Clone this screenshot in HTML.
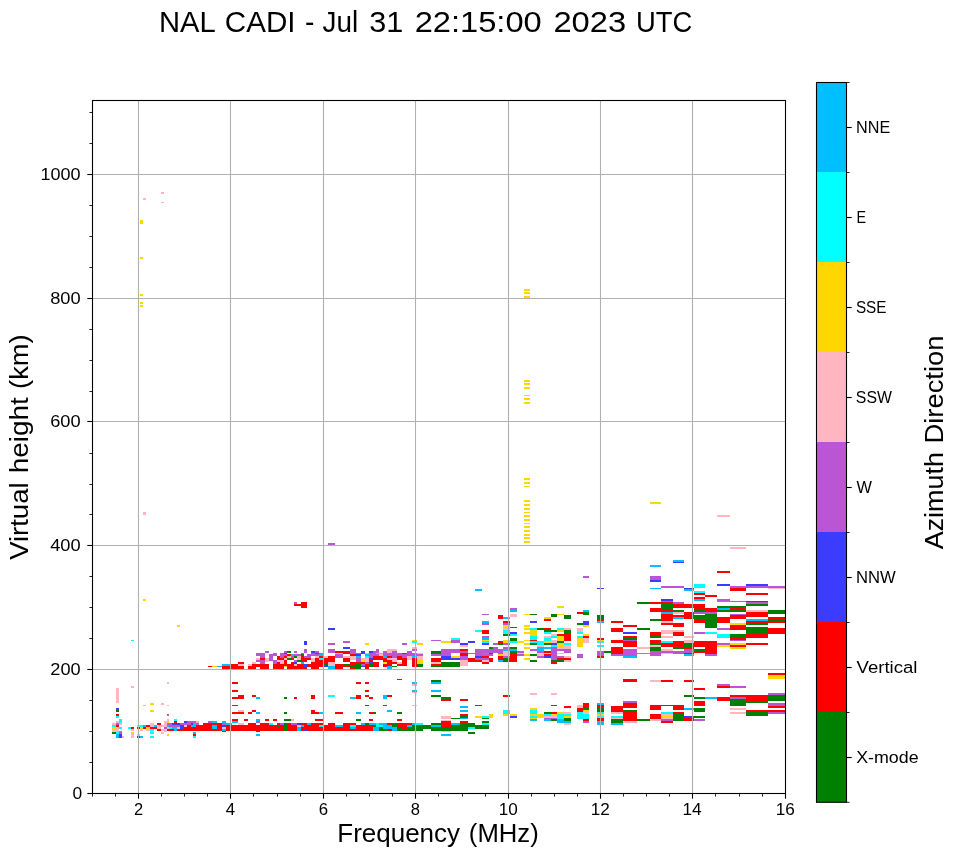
<!DOCTYPE html><html><head><meta charset="utf-8"><title>NAL CADI</title>
<style>html,body{margin:0;padding:0;background:#fff}body{width:958px;height:857px;overflow:hidden}svg{display:block;will-change:transform}text{font-family:"Liberation Sans",sans-serif;fill:#000}</style></head><body>
<svg width="958" height="857" viewBox="0 0 958 857">
<rect x="0" y="0" width="958" height="857" fill="#fff"/>
<g shape-rendering="crispEdges">
<rect x="116" y="687.9" width="3" height="14.9" fill="#ffb6c1"/>
<rect x="116" y="708.1" width="3" height="2" fill="#3c3cff"/>
<rect x="116" y="710.1" width="3" height="2" fill="#008000"/>
<rect x="116" y="714.1" width="3" height="2" fill="#ff0000"/>
<rect x="116" y="716.1" width="3" height="2" fill="#00ffff"/>
<rect x="119" y="718.8" width="3" height="4" fill="#00ffff"/>
<rect x="116" y="720.8" width="3" height="2" fill="#ffb6c1"/>
<rect x="112" y="722.9" width="4" height="2" fill="#ffb6c1"/>
<rect x="116" y="722.9" width="3" height="2" fill="#ba55d3"/>
<rect x="119" y="722.9" width="3" height="2" fill="#ffb6c1"/>
<rect x="112" y="724.9" width="4" height="2" fill="#00ffff"/>
<rect x="116" y="724.9" width="3" height="2" fill="#ff0000"/>
<rect x="112" y="726.9" width="4" height="2" fill="#ffd700"/>
<rect x="116" y="726.9" width="3" height="2" fill="#ffb6c1"/>
<rect x="119" y="726.9" width="3" height="2" fill="#00ffff"/>
<rect x="112" y="728.9" width="7" height="2" fill="#ffb6c1"/>
<rect x="112" y="730.9" width="4" height="1.3" fill="#ffb6c1"/>
<rect x="116" y="730.9" width="3" height="1.3" fill="#ffd700"/>
<rect x="119" y="730.9" width="3" height="2" fill="#00bfff"/>
<rect x="112" y="732.1" width="4" height="1.8" fill="#008000"/>
<rect x="116" y="732.1" width="3" height="1.8" fill="#00ffff"/>
<rect x="119" y="732.1" width="3" height="1.8" fill="#ba55d3"/>
<rect x="116" y="733.9" width="3" height="4" fill="#00bfff"/>
<rect x="119" y="733.9" width="3" height="4" fill="#3c3cff"/>
<rect x="122" y="735.9" width="1.8" height="2" fill="#ffb6c1"/>
<rect x="131.1" y="686" width="2.8" height="1.9" fill="#ffb6c1"/>
<rect x="127.8" y="726.9" width="3" height="2" fill="#00ffff"/>
<rect x="130.8" y="726.9" width="3" height="2" fill="#ff0000"/>
<rect x="130.8" y="728.9" width="3" height="2" fill="#ffb6c1"/>
<rect x="130.8" y="732.1" width="3" height="1.8" fill="#ffd700"/>
<rect x="130.8" y="733.9" width="3" height="4" fill="#ffb6c1"/>
<rect x="137" y="725.1" width="3.1" height="1.8" fill="#ffb6c1"/>
<rect x="137" y="726.9" width="3.1" height="2" fill="#ff0000"/>
<rect x="140.1" y="724.9" width="3.1" height="2" fill="#00ffff"/>
<rect x="143.2" y="724.9" width="2.9" height="2" fill="#00bfff"/>
<rect x="140.1" y="726.9" width="3.1" height="2" fill="#ffd700"/>
<rect x="143.2" y="726.9" width="2.9" height="2" fill="#ff0000"/>
<rect x="140.1" y="728.9" width="3.1" height="2" fill="#ffb6c1"/>
<rect x="137" y="733.9" width="3.1" height="2" fill="#ffb6c1"/>
<rect x="137" y="735.9" width="3.1" height="2" fill="#ff0000"/>
<rect x="140.1" y="735.9" width="3.1" height="2" fill="#00bfff"/>
<rect x="142.8" y="705.1" width="3.3" height="0.8" fill="#ffd700"/>
<rect x="146.1" y="724.9" width="4" height="2" fill="#ff0000"/>
<rect x="146.1" y="726.9" width="4" height="2" fill="#ffd700"/>
<rect x="146.1" y="728.9" width="4" height="2" fill="#ffb6c1"/>
<rect x="150.1" y="722.9" width="4" height="4" fill="#ffb6c1"/>
<rect x="150.1" y="726.9" width="7" height="2" fill="#ff0000"/>
<rect x="154.1" y="724.9" width="3" height="2" fill="#00bfff"/>
<rect x="150.1" y="728.9" width="4" height="2" fill="#00ffff"/>
<rect x="150.1" y="730.9" width="4" height="1.3" fill="#ffd700"/>
<rect x="150.1" y="732.1" width="4" height="1.8" fill="#00ffff"/>
<rect x="150.1" y="735.9" width="4" height="2" fill="#00ffff"/>
<rect x="150.1" y="703.1" width="4" height="2" fill="#ffd700"/>
<rect x="150.1" y="710.1" width="4" height="2" fill="#ffd700"/>
<rect x="157.1" y="722.9" width="4" height="2" fill="#ff0000"/>
<rect x="157.1" y="724.9" width="4" height="4" fill="#ffb6c1"/>
<rect x="157.1" y="728.9" width="4" height="2" fill="#ff0000"/>
<rect x="161.1" y="703.1" width="3" height="2" fill="#ffb6c1"/>
<rect x="161.1" y="724.9" width="6" height="2" fill="#ffb6c1"/>
<rect x="164.1" y="720.8" width="3" height="6" fill="#ffb6c1"/>
<rect x="164.1" y="726.9" width="3" height="2" fill="#ba55d3"/>
<rect x="161.1" y="728.9" width="6" height="2" fill="#ffb6c1"/>
<rect x="161.1" y="732.1" width="3" height="1.8" fill="#ffb6c1"/>
<rect x="164.1" y="730.9" width="3" height="1.3" fill="#ffd700"/>
<rect x="167.1" y="682" width="1.8" height="2" fill="#ffb6c1"/>
<rect x="167.1" y="705.1" width="1.8" height="0.8" fill="#ffb6c1"/>
<rect x="167.1" y="714.1" width="1.8" height="2" fill="#ba55d3"/>
<rect x="167.1" y="718.8" width="1.8" height="2" fill="#ffb6c1"/>
<rect x="167.1" y="720.8" width="1.8" height="2" fill="#ffd700"/>
<rect x="167.1" y="733.9" width="1.8" height="2" fill="#ffd700"/>
<rect x="173.9" y="718.8" width="3" height="2" fill="#00ffff"/>
<rect x="173.9" y="720.8" width="3" height="2" fill="#ff0000"/>
<rect x="183.9" y="720.8" width="3.1" height="2" fill="#3c3cff"/>
<rect x="187.1" y="720.8" width="8.8" height="2" fill="#ba55d3"/>
<rect x="195.8" y="720.8" width="3.1" height="2" fill="#ffb6c1"/>
<rect x="208" y="720.8" width="4.1" height="2" fill="#ba55d3"/>
<rect x="212.1" y="720.8" width="5" height="2" fill="#00bfff"/>
<rect x="167.1" y="722.9" width="52.9" height="8" fill="#ff0000"/>
<rect x="167.1" y="722.9" width="4.9" height="2" fill="#ba55d3"/>
<rect x="172" y="722.9" width="8.1" height="2" fill="#3c3cff"/>
<rect x="180.2" y="722.9" width="10.6" height="2" fill="#ba55d3"/>
<rect x="190.8" y="722.9" width="2.5" height="2" fill="#3c3cff"/>
<rect x="193.3" y="722.9" width="2.5" height="2" fill="#00bfff"/>
<rect x="195.8" y="722.9" width="3.1" height="2" fill="#ba55d3"/>
<rect x="199" y="722.9" width="3.8" height="2" fill="#ffffff"/>
<rect x="167.1" y="724.9" width="1.8" height="2" fill="#00bfff"/>
<rect x="168.9" y="724.9" width="11.3" height="2" fill="#ba55d3"/>
<rect x="180.2" y="724.9" width="3.8" height="2" fill="#3c3cff"/>
<rect x="183.9" y="724.9" width="3.1" height="2" fill="#ffb6c1"/>
<rect x="190.8" y="724.9" width="5" height="2" fill="#00bfff"/>
<rect x="212.1" y="724.9" width="5" height="4" fill="#00bfff"/>
<rect x="167.1" y="726.9" width="1.8" height="2" fill="#ffb6c1"/>
<rect x="168.9" y="726.9" width="3.1" height="2" fill="#00ffff"/>
<rect x="172" y="726.9" width="4.9" height="2" fill="#00bfff"/>
<rect x="176.9" y="726.9" width="3.3" height="2" fill="#ffb6c1"/>
<rect x="180.2" y="726.9" width="3.8" height="2" fill="#3c3cff"/>
<rect x="173.9" y="728.9" width="3" height="2" fill="#00bfff"/>
<rect x="192.9" y="732.1" width="3" height="1.8" fill="#00bfff"/>
<rect x="192.9" y="733.9" width="3" height="2" fill="#ff0000"/>
<rect x="192.9" y="735.9" width="3" height="2" fill="#00ffff"/>
<rect x="215" y="722.9" width="120" height="8" fill="#ff0000"/>
<rect x="215" y="720.8" width="2" height="2" fill="#00bfff"/>
<rect x="215" y="724.9" width="2" height="4" fill="#00bfff"/>
<rect x="221.9" y="720.8" width="4.1" height="2" fill="#00bfff"/>
<rect x="221.9" y="722.9" width="4.1" height="2" fill="#ba55d3"/>
<rect x="221.9" y="724.9" width="4.1" height="2" fill="#3c3cff"/>
<rect x="221.9" y="726.9" width="4.1" height="2" fill="#ffb6c1"/>
<rect x="221.9" y="728.9" width="4.1" height="2" fill="#00bfff"/>
<rect x="221.9" y="730.9" width="4.1" height="1" fill="#ff0000"/>
<rect x="226" y="722.9" width="5.9" height="2" fill="#00bfff"/>
<rect x="231.9" y="720.8" width="6.3" height="2" fill="#00bfff"/>
<rect x="231.9" y="722.9" width="6.3" height="2" fill="#ffffff"/>
<rect x="238.2" y="722.9" width="5.6" height="2" fill="#ffb6c1"/>
<rect x="243.8" y="722.9" width="4.4" height="2" fill="#ffffff"/>
<rect x="256.3" y="722.9" width="3.5" height="2" fill="#ffffff"/>
<rect x="256.3" y="718.8" width="3.5" height="2" fill="#00bfff"/>
<rect x="256.3" y="720.8" width="3.5" height="2" fill="#ba55d3"/>
<rect x="256.3" y="730.9" width="3.5" height="1" fill="#ff0000"/>
<rect x="256.3" y="733.9" width="3.5" height="2" fill="#00bfff"/>
<rect x="268.9" y="722.9" width="4" height="2" fill="#00ffff"/>
<rect x="272.9" y="722.9" width="4.1" height="2" fill="#ffffff"/>
<rect x="277" y="724.9" width="3.1" height="2" fill="#008000"/>
<rect x="280.1" y="722.9" width="3.8" height="2" fill="#ba55d3"/>
<rect x="283.9" y="722.9" width="3.1" height="8" fill="#008000"/>
<rect x="291.2" y="722.9" width="5.9" height="2" fill="#ba55d3"/>
<rect x="297" y="722.9" width="3.8" height="2" fill="#3c3cff"/>
<rect x="297" y="724.9" width="3.8" height="2" fill="#ffb6c1"/>
<rect x="297" y="726.9" width="3.8" height="4" fill="#00bfff"/>
<rect x="300.8" y="724.9" width="3.1" height="2" fill="#00bfff"/>
<rect x="303.9" y="728.9" width="3.1" height="2" fill="#3c3cff"/>
<rect x="307.1" y="722.9" width="3.8" height="2" fill="#00bfff"/>
<rect x="319" y="724.9" width="4" height="2" fill="#00ffff"/>
<rect x="324" y="722.9" width="4.4" height="2" fill="#ffffff"/>
<rect x="231.9" y="682" width="6.3" height="2" fill="#ff0000"/>
<rect x="231.9" y="690" width="6.3" height="2" fill="#ff0000"/>
<rect x="231.9" y="697" width="6.3" height="2" fill="#ff0000"/>
<rect x="238.2" y="695" width="5.9" height="4" fill="#ff0000"/>
<rect x="231.9" y="704.8" width="6.3" height="1" fill="#ff0000"/>
<rect x="238.2" y="710.1" width="5.9" height="2" fill="#ffb6c1"/>
<rect x="231.9" y="712.1" width="12.2" height="2" fill="#ff0000"/>
<rect x="231.9" y="718.8" width="6.3" height="2" fill="#ff0000"/>
<rect x="244.1" y="718.8" width="4.1" height="2" fill="#ff0000"/>
<rect x="248.2" y="712.1" width="3.8" height="2" fill="#ff0000"/>
<rect x="252" y="710.1" width="4.1" height="2" fill="#ff0000"/>
<rect x="252" y="695" width="4.1" height="2" fill="#ff0000"/>
<rect x="256.1" y="697" width="3.8" height="2" fill="#00bfff"/>
<rect x="256.1" y="712.1" width="3.8" height="2" fill="#00bfff"/>
<rect x="265.1" y="718.8" width="3.8" height="2" fill="#ff0000"/>
<rect x="272.9" y="718.8" width="4.1" height="2" fill="#ff0000"/>
<rect x="283.9" y="697" width="3.1" height="2" fill="#008000"/>
<rect x="283.9" y="712.1" width="3.1" height="2" fill="#008000"/>
<rect x="283.9" y="718.8" width="7.3" height="2" fill="#008000"/>
<rect x="291.2" y="718.8" width="2.8" height="2" fill="#ffb6c1"/>
<rect x="293.9" y="697" width="3.1" height="2" fill="#ff0000"/>
<rect x="311.2" y="695" width="3.8" height="4" fill="#ff0000"/>
<rect x="311.2" y="710.1" width="3.8" height="4" fill="#ff0000"/>
<rect x="315" y="712.1" width="4" height="2" fill="#ff0000"/>
<rect x="319" y="712.1" width="4" height="2" fill="#00bfff"/>
<rect x="315" y="718.8" width="8" height="2" fill="#ff0000"/>
<rect x="328" y="695" width="7" height="2" fill="#00ffff"/>
<rect x="330" y="722.9" width="43.2" height="8" fill="#ff0000"/>
<rect x="335" y="722.9" width="8.1" height="2" fill="#ffffff"/>
<rect x="356.1" y="722.9" width="5" height="2" fill="#ffffff"/>
<rect x="361.1" y="722.9" width="4" height="2" fill="#00bfff"/>
<rect x="365.1" y="722.9" width="4" height="2" fill="#008000"/>
<rect x="369.1" y="722.9" width="7" height="2" fill="#00bfff"/>
<rect x="376.1" y="722.9" width="3" height="2" fill="#00ffff"/>
<rect x="379.1" y="722.9" width="8" height="2" fill="#00bfff"/>
<rect x="387.1" y="722.9" width="4.9" height="2" fill="#ff0000"/>
<rect x="392" y="722.9" width="5" height="2" fill="#008000"/>
<rect x="397" y="722.9" width="15" height="2" fill="#ff0000"/>
<rect x="412" y="722.9" width="4.4" height="2" fill="#00bfff"/>
<rect x="416.4" y="722.9" width="6.5" height="2" fill="#00ffff"/>
<rect x="431.2" y="722.9" width="9.6" height="2" fill="#008000"/>
<rect x="335" y="724.9" width="8.1" height="2" fill="#00bfff"/>
<rect x="350" y="724.9" width="6" height="2" fill="#00ffff"/>
<rect x="373.2" y="724.9" width="2.9" height="2" fill="#008000"/>
<rect x="376.1" y="724.9" width="3" height="2" fill="#00ffff"/>
<rect x="379.1" y="724.9" width="4.1" height="2" fill="#00ffff"/>
<rect x="383.2" y="724.9" width="8.8" height="2" fill="#00bfff"/>
<rect x="392" y="724.9" width="5" height="2" fill="#008000"/>
<rect x="397" y="724.9" width="10" height="2" fill="#ff0000"/>
<rect x="407" y="724.9" width="5" height="2" fill="#00bfff"/>
<rect x="412" y="724.9" width="19.2" height="2" fill="#008000"/>
<rect x="431.2" y="724.9" width="9.6" height="2" fill="#00bfff"/>
<rect x="350" y="726.9" width="6" height="2" fill="#00bfff"/>
<rect x="373.2" y="726.9" width="5.9" height="2" fill="#00bfff"/>
<rect x="379.1" y="726.9" width="4.1" height="2" fill="#008000"/>
<rect x="383.2" y="726.9" width="13.8" height="2" fill="#00bfff"/>
<rect x="397" y="726.9" width="5" height="2" fill="#008000"/>
<rect x="402" y="726.9" width="5" height="2" fill="#ff0000"/>
<rect x="407" y="726.9" width="43" height="2" fill="#008000"/>
<rect x="373.2" y="728.9" width="5.9" height="2" fill="#00bfff"/>
<rect x="379.1" y="728.9" width="8" height="2" fill="#008000"/>
<rect x="387.1" y="728.9" width="4.9" height="2" fill="#ff0000"/>
<rect x="392" y="728.9" width="5" height="2" fill="#00bfff"/>
<rect x="397" y="728.9" width="25.9" height="2" fill="#008000"/>
<rect x="431.2" y="728.9" width="18.8" height="2" fill="#008000"/>
<rect x="440.9" y="716.1" width="9.1" height="1.5" fill="#ffb6c1"/>
<rect x="440.9" y="718.3" width="9.1" height="0.8" fill="#ffb6c1"/>
<rect x="440.9" y="719.6" width="9.1" height="1.3" fill="#ffb6c1"/>
<rect x="440.9" y="720.8" width="9.1" height="6" fill="#ff0000"/>
<rect x="440.9" y="730.9" width="9.1" height="1" fill="#ffb6c1"/>
<rect x="440.9" y="733.9" width="9.1" height="2" fill="#00bfff"/>
<rect x="330" y="695" width="5" height="2" fill="#00ffff"/>
<rect x="335" y="712.1" width="8.1" height="2" fill="#ff0000"/>
<rect x="356.1" y="682" width="5" height="2" fill="#ff0000"/>
<rect x="365.1" y="682" width="4" height="2" fill="#ff0000"/>
<rect x="365.1" y="690" width="4" height="2" fill="#ff0000"/>
<rect x="350" y="697" width="6" height="2" fill="#00bfff"/>
<rect x="356.1" y="695" width="5" height="4" fill="#ff0000"/>
<rect x="365.1" y="695" width="4" height="2" fill="#ff0000"/>
<rect x="369.1" y="697" width="4.1" height="2" fill="#ff0000"/>
<rect x="365.1" y="704.8" width="4" height="1" fill="#ff0000"/>
<rect x="356.1" y="712.1" width="5" height="2" fill="#00bfff"/>
<rect x="369.1" y="712.1" width="4.1" height="2" fill="#ff0000"/>
<rect x="373.2" y="712.1" width="2.9" height="2" fill="#008000"/>
<rect x="356.1" y="718.8" width="5" height="2" fill="#008000"/>
<rect x="369.1" y="718.8" width="4.1" height="2" fill="#ff0000"/>
<rect x="383.2" y="695" width="3.9" height="4" fill="#00bfff"/>
<rect x="387.1" y="695" width="4.9" height="2" fill="#ff0000"/>
<rect x="383.2" y="704.8" width="3.9" height="1" fill="#ff0000"/>
<rect x="387.1" y="710.1" width="4.9" height="2" fill="#00bfff"/>
<rect x="397" y="679" width="5" height="1" fill="#ff0000"/>
<rect x="397" y="712.1" width="5" height="2" fill="#008000"/>
<rect x="397" y="718.8" width="5" height="2" fill="#ff0000"/>
<rect x="412" y="682" width="5" height="2" fill="#00bfff"/>
<rect x="412" y="684" width="5" height="1.5" fill="#ffb6c1"/>
<rect x="412" y="690" width="5" height="2" fill="#00bfff"/>
<rect x="412" y="692" width="5" height="0.8" fill="#ffb6c1"/>
<rect x="412" y="704.8" width="5" height="1" fill="#ffb6c1"/>
<rect x="431.2" y="680" width="9.6" height="2" fill="#008000"/>
<rect x="431.2" y="682" width="9.6" height="2" fill="#00bfff"/>
<rect x="431.2" y="690" width="9.6" height="2" fill="#00bfff"/>
<rect x="431.2" y="695" width="9.6" height="2" fill="#008000"/>
<rect x="440.9" y="697" width="9.1" height="2" fill="#008000"/>
<rect x="440.9" y="699.1" width="9.1" height="2" fill="#ff0000"/>
<rect x="445" y="697" width="6" height="2" fill="#008000"/>
<rect x="445" y="699.1" width="6" height="2" fill="#ff0000"/>
<rect x="445" y="716.1" width="6" height="1.5" fill="#ffb6c1"/>
<rect x="445" y="718.3" width="6" height="0.8" fill="#ffb6c1"/>
<rect x="445" y="719.6" width="6" height="1.3" fill="#ffb6c1"/>
<rect x="445" y="720.8" width="6" height="6" fill="#ff0000"/>
<rect x="445" y="726.9" width="6" height="4" fill="#008000"/>
<rect x="445" y="730.9" width="6" height="1" fill="#ffb6c1"/>
<rect x="445" y="733.9" width="6" height="2" fill="#00bfff"/>
<rect x="451" y="717.8" width="9" height="1.3" fill="#008000"/>
<rect x="451" y="722.9" width="9" height="2" fill="#00bfff"/>
<rect x="451" y="724.9" width="16.9" height="6" fill="#008000"/>
<rect x="460" y="699.1" width="7.9" height="2" fill="#ff0000"/>
<rect x="460" y="706.1" width="7.9" height="2" fill="#00bfff"/>
<rect x="460" y="710.1" width="7.9" height="2" fill="#00bfff"/>
<rect x="460" y="714.1" width="7.9" height="2" fill="#ff0000"/>
<rect x="460" y="716.1" width="7.9" height="2" fill="#008000"/>
<rect x="460" y="718.1" width="7.9" height="1" fill="#00bfff"/>
<rect x="460" y="720.8" width="7.9" height="2" fill="#ff0000"/>
<rect x="460" y="722.9" width="7.9" height="2" fill="#008000"/>
<rect x="467.9" y="722.9" width="6.9" height="4" fill="#008000"/>
<rect x="467.9" y="726.9" width="6.9" height="2" fill="#00ffff"/>
<rect x="467.9" y="732.1" width="6.9" height="1.8" fill="#008000"/>
<rect x="474.8" y="724.9" width="14" height="4" fill="#008000"/>
<rect x="474.8" y="704.8" width="7.1" height="1" fill="#ff0000"/>
<rect x="474.8" y="716.1" width="7.1" height="1.8" fill="#ffd700"/>
<rect x="482" y="716.1" width="6.9" height="1.8" fill="#00ffff"/>
<rect x="482" y="717.8" width="6.9" height="1.3" fill="#008000"/>
<rect x="482" y="720.8" width="6.9" height="2" fill="#008000"/>
<rect x="482" y="722.9" width="6.9" height="2" fill="#00ffff"/>
<rect x="488.8" y="714.1" width="4" height="3.8" fill="#ffd700"/>
<rect x="502.9" y="695" width="7" height="2" fill="#ff0000"/>
<rect x="502.9" y="710.1" width="7" height="4" fill="#00ffff"/>
<rect x="502.9" y="714.1" width="5" height="2" fill="#ffd700"/>
<rect x="509.9" y="714.1" width="7.1" height="2" fill="#ffd700"/>
<rect x="509.9" y="716.1" width="7.1" height="1.8" fill="#3c3cff"/>
<rect x="529.9" y="693" width="7.1" height="1.8" fill="#ffb6c1"/>
<rect x="529.9" y="708.1" width="7.1" height="2" fill="#ffd700"/>
<rect x="529.9" y="710.1" width="7.1" height="4" fill="#00ffff"/>
<rect x="529.9" y="714.1" width="7.1" height="2" fill="#ffd700"/>
<rect x="529.9" y="716.1" width="7.1" height="1.8" fill="#00ffff"/>
<rect x="537.1" y="714.1" width="6.9" height="3.8" fill="#ffd700"/>
<rect x="529.9" y="717.8" width="7.1" height="1.3" fill="#ffd700"/>
<rect x="529.9" y="719.1" width="7.1" height="1.8" fill="#00bfff"/>
<rect x="550.8" y="693" width="6" height="1.8" fill="#ffb6c1"/>
<rect x="550.8" y="704.8" width="6" height="1" fill="#008000"/>
<rect x="544" y="712.1" width="6.9" height="2" fill="#008000"/>
<rect x="544" y="714.1" width="6.9" height="2" fill="#00ffff"/>
<rect x="544" y="716.1" width="12.9" height="1.5" fill="#ffb6c1"/>
<rect x="544" y="717.6" width="12.9" height="1" fill="#ba55d3"/>
<rect x="544" y="718.6" width="6.9" height="2.3" fill="#00bfff"/>
<rect x="550.8" y="712.1" width="6" height="2" fill="#ff0000"/>
<rect x="550.8" y="714.1" width="6" height="2" fill="#ffd700"/>
<rect x="550.8" y="718.6" width="6" height="2.3" fill="#008000"/>
<rect x="556.9" y="712.1" width="7.1" height="2" fill="#ffd700"/>
<rect x="556.9" y="714.1" width="8.1" height="4.8" fill="#00ffff"/>
<rect x="556.9" y="718.8" width="8.1" height="4" fill="#00bfff"/>
<rect x="564" y="706.1" width="1" height="2" fill="#ff0000"/>
<rect x="564" y="712.1" width="1" height="2" fill="#ffb6c1"/>
<rect x="564" y="716.1" width="1" height="1.8" fill="#ffd700"/>
<rect x="564" y="717.8" width="1" height="3" fill="#008000"/>
<rect x="564" y="722.9" width="1" height="2" fill="#ffb6c1"/>
<rect x="560" y="712.1" width="4" height="2" fill="#ffd700"/>
<rect x="560" y="714.1" width="4" height="4.8" fill="#00ffff"/>
<rect x="560" y="718.8" width="4" height="4" fill="#00bfff"/>
<rect x="564" y="706.1" width="7" height="2" fill="#ff0000"/>
<rect x="564" y="712.1" width="7" height="2" fill="#ffb6c1"/>
<rect x="564" y="714.1" width="7" height="2" fill="#00ffff"/>
<rect x="564" y="716.1" width="7" height="1.8" fill="#ffd700"/>
<rect x="564" y="717.8" width="7" height="3" fill="#008000"/>
<rect x="564" y="720.8" width="7" height="2" fill="#00bfff"/>
<rect x="564" y="722.9" width="7" height="2" fill="#ffb6c1"/>
<rect x="576.9" y="705.1" width="6" height="3" fill="#ffb6c1"/>
<rect x="576.9" y="708.1" width="6" height="4" fill="#ff0000"/>
<rect x="576.9" y="712.1" width="12.2" height="6.8" fill="#00ffff"/>
<rect x="582.9" y="703.1" width="6.1" height="5" fill="#ff0000"/>
<rect x="582.9" y="708.1" width="6.1" height="2" fill="#008000"/>
<rect x="582.9" y="710.1" width="6.1" height="2" fill="#ffd700"/>
<rect x="582.9" y="712.1" width="6.1" height="2" fill="#ffb6c1"/>
<rect x="582.9" y="718.8" width="6.1" height="2.3" fill="#ff0000"/>
<rect x="582.9" y="721.1" width="6.1" height="1.8" fill="#ba55d3"/>
<rect x="597" y="703.1" width="6.9" height="2" fill="#00bfff"/>
<rect x="597" y="705.1" width="6.9" height="3" fill="#ff0000"/>
<rect x="597" y="708.1" width="6.9" height="4" fill="#008000"/>
<rect x="597" y="712.1" width="6.9" height="2" fill="#00ffff"/>
<rect x="597" y="714.1" width="6.9" height="2" fill="#ffd700"/>
<rect x="597" y="716.1" width="6.9" height="2" fill="#00ffff"/>
<rect x="597" y="718.1" width="6.9" height="3" fill="#ff0000"/>
<rect x="597" y="721.1" width="6.9" height="3.8" fill="#00bfff"/>
<rect x="611" y="705.8" width="11.9" height="6.3" fill="#ff0000"/>
<rect x="611" y="712.1" width="11.9" height="2" fill="#ffb6c1"/>
<rect x="611" y="716.1" width="11.9" height="2" fill="#00ffff"/>
<rect x="611" y="718.1" width="11.9" height="1" fill="#ffb6c1"/>
<rect x="611" y="719.1" width="11.9" height="3.8" fill="#008000"/>
<rect x="611" y="722.9" width="11.9" height="2" fill="#00bfff"/>
<rect x="622.9" y="679" width="14.2" height="3" fill="#ff0000"/>
<rect x="622.9" y="701.1" width="14.2" height="2" fill="#ba55d3"/>
<rect x="622.9" y="703.1" width="14.2" height="5" fill="#ff0000"/>
<rect x="622.9" y="710.1" width="14.2" height="2" fill="#008000"/>
<rect x="622.9" y="712.1" width="14.2" height="8.8" fill="#ff0000"/>
<rect x="622.9" y="720.8" width="14.2" height="2" fill="#ffb6c1"/>
<rect x="637" y="719.1" width="13.2" height="1.8" fill="#008000"/>
<rect x="650.2" y="680" width="10.8" height="2" fill="#ffb6c1"/>
<rect x="650.2" y="705.1" width="10.8" height="5" fill="#ff0000"/>
<rect x="650.2" y="714.1" width="10.8" height="5" fill="#ff0000"/>
<rect x="650.2" y="719.1" width="10.8" height="1.8" fill="#ffb6c1"/>
<rect x="661" y="680" width="12" height="2" fill="#ff0000"/>
<rect x="661" y="705.1" width="12" height="1" fill="#008000"/>
<rect x="661" y="712.1" width="12" height="2" fill="#00ffff"/>
<rect x="661" y="714.1" width="12" height="2" fill="#ffb6c1"/>
<rect x="661" y="716.1" width="12" height="2" fill="#ffd700"/>
<rect x="661" y="718.1" width="12" height="1" fill="#ffb6c1"/>
<rect x="661" y="719.1" width="12" height="1.8" fill="#ba55d3"/>
<rect x="661" y="720.8" width="12" height="2" fill="#ff0000"/>
<rect x="673" y="705.1" width="7" height="5" fill="#ff0000"/>
<rect x="673" y="712.1" width="7" height="2" fill="#ff0000"/>
<rect x="673" y="714.1" width="7" height="6.8" fill="#008000"/>
<rect x="675" y="705.1" width="9" height="5" fill="#ff0000"/>
<rect x="675" y="712.1" width="9" height="2" fill="#ff0000"/>
<rect x="675" y="714.1" width="9" height="6.8" fill="#008000"/>
<rect x="684" y="680" width="10" height="2" fill="#ff0000"/>
<rect x="684" y="695" width="10" height="2" fill="#008000"/>
<rect x="684" y="708.1" width="10" height="2" fill="#00bfff"/>
<rect x="684" y="716.1" width="10" height="2" fill="#3c3cff"/>
<rect x="684" y="718.1" width="10" height="2.8" fill="#ff0000"/>
<rect x="694" y="688" width="11" height="2" fill="#ff0000"/>
<rect x="694" y="697" width="11" height="2" fill="#008000"/>
<rect x="694" y="701.1" width="11" height="4" fill="#ff0000"/>
<rect x="694" y="705.1" width="11" height="0.8" fill="#3c3cff"/>
<rect x="694" y="708.1" width="11" height="4" fill="#008000"/>
<rect x="694" y="716.1" width="11" height="2" fill="#008000"/>
<rect x="694" y="719.1" width="11" height="1.8" fill="#ba55d3"/>
<rect x="705.1" y="697" width="11.9" height="2" fill="#00bfff"/>
<rect x="717" y="684" width="13.2" height="2" fill="#ba55d3"/>
<rect x="717" y="686" width="13.2" height="2" fill="#ff0000"/>
<rect x="717" y="697" width="13.2" height="4" fill="#ff0000"/>
<rect x="730.1" y="686" width="15.9" height="2" fill="#ba55d3"/>
<rect x="730.1" y="695" width="15.9" height="2" fill="#ff0000"/>
<rect x="730.1" y="697" width="15.9" height="2" fill="#ba55d3"/>
<rect x="730.1" y="699.1" width="15.9" height="6.8" fill="#008000"/>
<rect x="730.1" y="708.1" width="15.9" height="2" fill="#ffb6c1"/>
<rect x="730.1" y="712.1" width="15.9" height="2" fill="#ffb6c1"/>
<rect x="746" y="695" width="21.9" height="6" fill="#ff0000"/>
<rect x="746" y="701.1" width="21.9" height="1.8" fill="#008000"/>
<rect x="746" y="710.1" width="21.9" height="2" fill="#ff0000"/>
<rect x="746" y="712.1" width="21.9" height="3.8" fill="#008000"/>
<rect x="767.9" y="675" width="17" height="3.8" fill="#ffd700"/>
<rect x="767.9" y="693" width="17" height="2" fill="#ba55d3"/>
<rect x="767.9" y="695" width="17" height="6" fill="#008000"/>
<rect x="767.9" y="703.1" width="17" height="3" fill="#ba55d3"/>
<rect x="767.9" y="706.1" width="17" height="2" fill="#ff0000"/>
<rect x="767.9" y="710.1" width="17" height="2" fill="#ff0000"/>
<rect x="767.9" y="712.1" width="17" height="2" fill="#ba55d3"/>
<rect x="142.8" y="599" width="3.3" height="2" fill="#ffd700"/>
<rect x="176.9" y="625.1" width="3.3" height="1.8" fill="#ffd700"/>
<rect x="130.8" y="639.8" width="3" height="1" fill="#00ffff"/>
<rect x="208" y="665.9" width="4.1" height="1" fill="#ff0000"/>
<rect x="212.1" y="665.9" width="5" height="1" fill="#ffd700"/>
<rect x="217.1" y="665.9" width="2.9" height="1" fill="#00bfff"/>
<rect x="215" y="665.9" width="2" height="1" fill="#ffd700"/>
<rect x="217" y="666.2" width="5" height="0.6" fill="#00bfff"/>
<rect x="222" y="663.9" width="9.9" height="2" fill="#00bfff"/>
<rect x="222" y="665.9" width="8" height="3" fill="#ff0000"/>
<rect x="231.4" y="663.9" width="12.5" height="5" fill="#ff0000"/>
<rect x="238" y="661.9" width="5.9" height="2" fill="#ff0000"/>
<rect x="238" y="664.4" width="5.9" height="1.1" fill="#ffb6c1"/>
<rect x="248.1" y="665.9" width="20.8" height="3" fill="#ff0000"/>
<rect x="248.1" y="664.1" width="3.9" height="1.8" fill="#ffb6c1"/>
<rect x="252" y="663.9" width="16.9" height="2" fill="#ff0000"/>
<rect x="252" y="662" width="4.1" height="1.9" fill="#ffb6c1"/>
<rect x="256" y="667.1" width="3.9" height="1.9" fill="#ffffff"/>
<rect x="256" y="652.8" width="9" height="3.1" fill="#ba55d3"/>
<rect x="260" y="656" width="5" height="2.2" fill="#ba55d3"/>
<rect x="256" y="658.2" width="3.9" height="1.8" fill="#ffb6c1"/>
<rect x="260" y="658.2" width="5" height="1.8" fill="#ff0000"/>
<rect x="256" y="659.9" width="9" height="2" fill="#ba55d3"/>
<rect x="260" y="661.9" width="5" height="2" fill="#ba55d3"/>
<rect x="265" y="651" width="3.9" height="1.9" fill="#ba55d3"/>
<rect x="265" y="658.2" width="3.9" height="3.8" fill="#ffb6c1"/>
<rect x="268.9" y="654.1" width="4.1" height="7.1" fill="#ba55d3"/>
<rect x="273" y="653.2" width="4" height="2.8" fill="#ba55d3"/>
<rect x="273" y="660.1" width="4" height="3.9" fill="#ba55d3"/>
<rect x="273" y="663.9" width="4" height="5" fill="#ff0000"/>
<rect x="277" y="656" width="3" height="4.1" fill="#ff0000"/>
<rect x="277" y="660.1" width="3" height="2" fill="#ffb6c1"/>
<rect x="277" y="662.1" width="3" height="6.9" fill="#ff0000"/>
<rect x="280" y="653.2" width="3.9" height="4.9" fill="#ba55d3"/>
<rect x="280" y="658" width="3.9" height="2" fill="#ff0000"/>
<rect x="280" y="660.1" width="3.9" height="3.9" fill="#ffb6c1"/>
<rect x="280" y="663.9" width="3.9" height="5" fill="#ff0000"/>
<rect x="283.9" y="651" width="3" height="1.9" fill="#ba55d3"/>
<rect x="283.9" y="652.8" width="3" height="1.3" fill="#3c3cff"/>
<rect x="283.9" y="654.1" width="3" height="1.9" fill="#ba55d3"/>
<rect x="283.9" y="656" width="3" height="2.1" fill="#ff0000"/>
<rect x="283.9" y="658" width="3" height="2" fill="#ffb6c1"/>
<rect x="283.9" y="660.1" width="3" height="5.9" fill="#ff0000"/>
<rect x="283.9" y="666" width="3" height="0.9" fill="#ffd700"/>
<rect x="286.9" y="651" width="4.1" height="1.9" fill="#008000"/>
<rect x="286.9" y="654.1" width="4.1" height="1.9" fill="#ff0000"/>
<rect x="286.9" y="656" width="4.1" height="2.1" fill="#ffb6c1"/>
<rect x="286.9" y="658" width="4.1" height="2" fill="#008000"/>
<rect x="286.9" y="663.9" width="4.1" height="5" fill="#ff0000"/>
<rect x="291" y="654.1" width="3.1" height="1.9" fill="#00bfff"/>
<rect x="291" y="656" width="3.1" height="2.1" fill="#ba55d3"/>
<rect x="291" y="658" width="3.1" height="2" fill="#ff0000"/>
<rect x="291" y="662.1" width="3.1" height="6.9" fill="#ff0000"/>
<rect x="294.1" y="651" width="2.9" height="1.9" fill="#ba55d3"/>
<rect x="294.1" y="654.1" width="2.9" height="1.9" fill="#ba55d3"/>
<rect x="294.1" y="656" width="2.9" height="2.1" fill="#008000"/>
<rect x="294.1" y="660.1" width="2.9" height="2" fill="#ba55d3"/>
<rect x="294.1" y="662.1" width="2.9" height="1.9" fill="#3c3cff"/>
<rect x="294.1" y="663.9" width="2.9" height="2.1" fill="#ffb6c1"/>
<rect x="294.1" y="666" width="2.9" height="2.9" fill="#ff0000"/>
<rect x="297.1" y="654.1" width="3.9" height="1.9" fill="#ba55d3"/>
<rect x="297.1" y="656" width="3.9" height="4.1" fill="#ffb6c1"/>
<rect x="297.1" y="660.1" width="3.9" height="2" fill="#008000"/>
<rect x="297.1" y="663.9" width="3.9" height="5" fill="#ff0000"/>
<rect x="301" y="653.2" width="3.1" height="0.9" fill="#ba55d3"/>
<rect x="301" y="654.1" width="3.1" height="1.9" fill="#008000"/>
<rect x="301" y="656" width="3.1" height="6.1" fill="#ff0000"/>
<rect x="301" y="662.1" width="3.1" height="1.9" fill="#00bfff"/>
<rect x="301" y="663.9" width="3.1" height="5" fill="#ff0000"/>
<rect x="304.1" y="640.9" width="2.8" height="4.1" fill="#3c3cff"/>
<rect x="304.1" y="649.1" width="2.8" height="3.8" fill="#ba55d3"/>
<rect x="304.1" y="656" width="2.8" height="2.1" fill="#ba55d3"/>
<rect x="304.1" y="658" width="2.8" height="4" fill="#ff0000"/>
<rect x="304.1" y="664.1" width="2.8" height="2.8" fill="#3c3cff"/>
<rect x="304.1" y="666.9" width="2.8" height="2" fill="#ff0000"/>
<rect x="307" y="654.1" width="4.1" height="3.9" fill="#ba55d3"/>
<rect x="307" y="658" width="4.1" height="2" fill="#ff0000"/>
<rect x="307" y="663.9" width="4.1" height="3" fill="#ff0000"/>
<rect x="311" y="651" width="3.9" height="1.9" fill="#3c3cff"/>
<rect x="311" y="652.8" width="3.9" height="3.1" fill="#ba55d3"/>
<rect x="311" y="658" width="3.9" height="4" fill="#ffb6c1"/>
<rect x="311" y="662.1" width="3.9" height="6.9" fill="#ff0000"/>
<rect x="315" y="651" width="4" height="1.9" fill="#ba55d3"/>
<rect x="315" y="652.8" width="4" height="1.3" fill="#3c3cff"/>
<rect x="315" y="654.1" width="4" height="1.9" fill="#ba55d3"/>
<rect x="315" y="656" width="4" height="2.1" fill="#ffb6c1"/>
<rect x="315" y="658" width="4" height="10.9" fill="#ff0000"/>
<rect x="319" y="653.2" width="4.1" height="0.9" fill="#ba55d3"/>
<rect x="319" y="654.1" width="4.1" height="1.9" fill="#00bfff"/>
<rect x="319" y="656" width="4.1" height="2.1" fill="#ff0000"/>
<rect x="319" y="658" width="4.1" height="2" fill="#00ffff"/>
<rect x="319" y="660.1" width="4.1" height="6.9" fill="#ff0000"/>
<rect x="324" y="656" width="3.9" height="2.1" fill="#ffb6c1"/>
<rect x="324" y="658" width="3.9" height="5.9" fill="#ff0000"/>
<rect x="324" y="663.9" width="3.9" height="2.1" fill="#008000"/>
<rect x="324" y="666" width="3.9" height="0.9" fill="#3c3cff"/>
<rect x="327.9" y="642.8" width="2.1" height="2.2" fill="#ba55d3"/>
<rect x="327.9" y="649.1" width="2.1" height="3.8" fill="#ba55d3"/>
<rect x="327.9" y="656" width="2.1" height="6.1" fill="#ff0000"/>
<rect x="327.9" y="662.1" width="2.1" height="3.9" fill="#ffb6c1"/>
<rect x="327.9" y="666" width="2.1" height="2.9" fill="#00bfff"/>
<rect x="293.9" y="602" width="3.1" height="2" fill="#ba55d3"/>
<rect x="293.9" y="604" width="13.2" height="2" fill="#ff0000"/>
<rect x="301.1" y="602" width="6" height="6" fill="#ff0000"/>
<rect x="328" y="628.1" width="7" height="2" fill="#3c3cff"/>
<rect x="325" y="656" width="3" height="2.1" fill="#ffb6c1"/>
<rect x="325" y="658" width="3" height="5.9" fill="#ff0000"/>
<rect x="325" y="663.9" width="3" height="2.1" fill="#008000"/>
<rect x="325" y="666" width="3" height="0.9" fill="#3c3cff"/>
<rect x="328" y="643" width="7" height="2" fill="#ba55d3"/>
<rect x="328" y="649.1" width="7" height="3.8" fill="#ba55d3"/>
<rect x="328" y="656" width="7" height="6.1" fill="#ff0000"/>
<rect x="328" y="662.1" width="7" height="3.9" fill="#ffb6c1"/>
<rect x="328" y="666" width="7" height="2.9" fill="#00bfff"/>
<rect x="335" y="651" width="8" height="1.9" fill="#ff0000"/>
<rect x="335" y="652.8" width="8" height="0.9" fill="#ffb6c1"/>
<rect x="335" y="653.8" width="8" height="4.3" fill="#ba55d3"/>
<rect x="335" y="663.9" width="8" height="5" fill="#ff0000"/>
<rect x="343" y="640.9" width="7" height="2.1" fill="#ba55d3"/>
<rect x="343" y="647" width="7" height="2.1" fill="#3c3cff"/>
<rect x="343" y="651" width="7" height="2.8" fill="#ff0000"/>
<rect x="343" y="656" width="7" height="2.1" fill="#ffb6c1"/>
<rect x="343" y="658" width="7" height="4" fill="#ff0000"/>
<rect x="343" y="663.9" width="7" height="2.1" fill="#008000"/>
<rect x="343" y="666" width="7" height="0.9" fill="#ff0000"/>
<rect x="350.1" y="649.1" width="5.9" height="4.7" fill="#ba55d3"/>
<rect x="350.1" y="653.8" width="5.9" height="2.2" fill="#ff0000"/>
<rect x="350.1" y="656" width="5.9" height="4.1" fill="#ffb6c1"/>
<rect x="350.1" y="662.1" width="5.9" height="3.9" fill="#ff0000"/>
<rect x="350.1" y="666" width="5.9" height="0.9" fill="#008000"/>
<rect x="350.1" y="666.9" width="5.9" height="2" fill="#ff0000"/>
<rect x="356" y="653.2" width="5" height="0.9" fill="#ba55d3"/>
<rect x="356" y="654.1" width="5" height="1.9" fill="#3c3cff"/>
<rect x="356" y="656" width="5" height="2.1" fill="#00bfff"/>
<rect x="356" y="658" width="5" height="4" fill="#ba55d3"/>
<rect x="356" y="662.1" width="5" height="1.9" fill="#ff0000"/>
<rect x="356" y="663.9" width="5" height="5" fill="#008000"/>
<rect x="361" y="651" width="4.1" height="2.8" fill="#3c3cff"/>
<rect x="361" y="658" width="4.1" height="2" fill="#ffb6c1"/>
<rect x="361" y="660.1" width="4.1" height="2" fill="#ffd700"/>
<rect x="361" y="662.1" width="4.1" height="1.9" fill="#ff0000"/>
<rect x="361" y="663.9" width="4.1" height="2.1" fill="#ba55d3"/>
<rect x="361" y="666" width="4.1" height="0.9" fill="#3c3cff"/>
<rect x="365.1" y="643" width="3.9" height="2" fill="#ffd700"/>
<rect x="365.1" y="652.8" width="3.9" height="1.3" fill="#ffb6c1"/>
<rect x="365.1" y="654.1" width="3.9" height="1.9" fill="#00bfff"/>
<rect x="365.1" y="656" width="3.9" height="2.1" fill="#00ffff"/>
<rect x="365.1" y="658" width="3.9" height="4" fill="#ffb6c1"/>
<rect x="365.1" y="662.1" width="3.9" height="1.9" fill="#ba55d3"/>
<rect x="365.1" y="663.9" width="3.9" height="5" fill="#ff0000"/>
<rect x="369" y="651" width="3.9" height="1.9" fill="#3c3cff"/>
<rect x="369" y="652.8" width="3.9" height="5.2" fill="#ba55d3"/>
<rect x="369" y="658" width="3.9" height="2" fill="#3c3cff"/>
<rect x="369" y="660.1" width="3.9" height="2" fill="#ff0000"/>
<rect x="369" y="662.1" width="3.9" height="1.9" fill="#3c3cff"/>
<rect x="369" y="663.9" width="3.9" height="3" fill="#008000"/>
<rect x="372.9" y="651" width="6.1" height="5" fill="#ba55d3"/>
<rect x="376.4" y="649.1" width="2.6" height="1.9" fill="#ba55d3"/>
<rect x="376.4" y="652.8" width="2.6" height="1.3" fill="#00ffff"/>
<rect x="372.9" y="656" width="6.1" height="4.1" fill="#ff0000"/>
<rect x="372.9" y="662.1" width="6.1" height="4.9" fill="#ff0000"/>
<rect x="379" y="652.8" width="3.9" height="1.3" fill="#00ffff"/>
<rect x="379" y="654.1" width="3.9" height="1.9" fill="#ffb6c1"/>
<rect x="379" y="656" width="3.9" height="4.1" fill="#ff0000"/>
<rect x="382.9" y="651" width="2.1" height="5" fill="#ba55d3"/>
<rect x="382.9" y="656" width="2.1" height="2.1" fill="#00bfff"/>
<rect x="382.9" y="658" width="2.1" height="4" fill="#ff0000"/>
<rect x="382.9" y="662.1" width="2.1" height="1.9" fill="#ffd700"/>
<rect x="382.9" y="663.9" width="2.1" height="3" fill="#ff0000"/>
<rect x="380" y="652.8" width="3" height="1.3" fill="#00ffff"/>
<rect x="380" y="654.1" width="3" height="1.9" fill="#ffb6c1"/>
<rect x="380" y="656" width="3" height="4.1" fill="#ff0000"/>
<rect x="383" y="651" width="4" height="5" fill="#ba55d3"/>
<rect x="383" y="656" width="4" height="2.1" fill="#00bfff"/>
<rect x="383" y="658" width="4" height="4" fill="#ff0000"/>
<rect x="383" y="662.1" width="4" height="1.9" fill="#ffd700"/>
<rect x="383" y="663.9" width="4" height="3" fill="#ff0000"/>
<rect x="387" y="649.1" width="5" height="3.8" fill="#ffb6c1"/>
<rect x="387" y="652.8" width="5" height="3.1" fill="#ba55d3"/>
<rect x="387" y="656" width="5" height="2.1" fill="#ff0000"/>
<rect x="387" y="658" width="5" height="1.7" fill="#ffb6c1"/>
<rect x="387" y="659.7" width="5" height="6.3" fill="#ff0000"/>
<rect x="387" y="666" width="5" height="2.9" fill="#00bfff"/>
<rect x="392" y="649.1" width="5" height="1.9" fill="#ffb6c1"/>
<rect x="392" y="651" width="5" height="7.1" fill="#ba55d3"/>
<rect x="392" y="658" width="5" height="4" fill="#ffb6c1"/>
<rect x="392" y="662.1" width="5" height="1.9" fill="#ff0000"/>
<rect x="392" y="666" width="5" height="0.9" fill="#008000"/>
<rect x="397" y="653.2" width="4.9" height="2.8" fill="#ba55d3"/>
<rect x="397" y="656" width="4.9" height="4.1" fill="#ff0000"/>
<rect x="397" y="662.1" width="4.9" height="1.9" fill="#ffb6c1"/>
<rect x="397" y="663.9" width="4.9" height="2.1" fill="#ff0000"/>
<rect x="401.9" y="643" width="5.1" height="2" fill="#ba55d3"/>
<rect x="401.9" y="653.2" width="5.1" height="0.9" fill="#3c3cff"/>
<rect x="401.9" y="654.1" width="5.1" height="3.9" fill="#ba55d3"/>
<rect x="401.9" y="658" width="5.1" height="8" fill="#ff0000"/>
<rect x="407.1" y="651" width="4.9" height="5" fill="#ba55d3"/>
<rect x="407.1" y="656" width="4.9" height="4.1" fill="#ffb6c1"/>
<rect x="411.9" y="649.1" width="5" height="1.9" fill="#ba55d3"/>
<rect x="411.9" y="640" width="5" height="0.9" fill="#ffd700"/>
<rect x="411.9" y="640.9" width="5" height="2.1" fill="#00ffff"/>
<rect x="411.9" y="647" width="5" height="2.1" fill="#ffb6c1"/>
<rect x="411.9" y="653.2" width="5" height="2.8" fill="#ba55d3"/>
<rect x="411.9" y="656" width="5" height="2.1" fill="#00bfff"/>
<rect x="411.9" y="658" width="5" height="8.9" fill="#ff0000"/>
<rect x="417" y="643" width="6.1" height="2" fill="#ffd700"/>
<rect x="417" y="652.8" width="6.1" height="1.3" fill="#ffb6c1"/>
<rect x="417" y="654.1" width="6.1" height="1.9" fill="#ba55d3"/>
<rect x="417" y="656" width="6.1" height="4.1" fill="#ffb6c1"/>
<rect x="417" y="660.1" width="6.1" height="3.9" fill="#ffd700"/>
<rect x="417" y="663.9" width="6.1" height="3" fill="#008000"/>
<rect x="431" y="640" width="9" height="0.9" fill="#ba55d3"/>
<rect x="431" y="651" width="9" height="2.2" fill="#008000"/>
<rect x="431" y="653.2" width="9" height="0.9" fill="#3c3cff"/>
<rect x="431" y="654.1" width="9" height="1.9" fill="#ba55d3"/>
<rect x="431" y="658" width="9" height="4" fill="#ff0000"/>
<rect x="431" y="662.1" width="9" height="1.9" fill="#ffb6c1"/>
<rect x="431" y="663.9" width="9" height="2.1" fill="#ff0000"/>
<rect x="431" y="666" width="9" height="0.9" fill="#008000"/>
<rect x="435" y="640" width="6" height="0.8" fill="#ba55d3"/>
<rect x="435" y="651.1" width="6" height="2.2" fill="#008000"/>
<rect x="435" y="653.2" width="6" height="1" fill="#3c3cff"/>
<rect x="435" y="654.2" width="6" height="1.8" fill="#ba55d3"/>
<rect x="435" y="658" width="6" height="4" fill="#ff0000"/>
<rect x="435" y="662" width="6" height="2" fill="#ffb6c1"/>
<rect x="435" y="664" width="6" height="1.9" fill="#ff0000"/>
<rect x="435" y="665.9" width="6" height="0.8" fill="#008000"/>
<rect x="441" y="640.9" width="9.9" height="2.1" fill="#ffd700"/>
<rect x="441" y="649.1" width="9.9" height="7" fill="#ba55d3"/>
<rect x="441" y="656.1" width="9.9" height="3.8" fill="#3c3cff"/>
<rect x="441" y="662" width="9.9" height="4.8" fill="#008000"/>
<rect x="450.9" y="638" width="9.2" height="2.1" fill="#00ffff"/>
<rect x="450.9" y="640" width="9.2" height="2.9" fill="#ba55d3"/>
<rect x="450.9" y="649.1" width="9.2" height="3.9" fill="#ba55d3"/>
<rect x="450.9" y="656.1" width="9.2" height="1.9" fill="#ffd700"/>
<rect x="450.9" y="658" width="9.2" height="1.9" fill="#3c3cff"/>
<rect x="450.9" y="662" width="9.2" height="4.8" fill="#008000"/>
<rect x="460.1" y="643" width="7.9" height="2.1" fill="#3c3cff"/>
<rect x="460.1" y="645.1" width="7.9" height="1.8" fill="#ffb6c1"/>
<rect x="460.1" y="649.1" width="7.9" height="2" fill="#ff0000"/>
<rect x="460.1" y="651.1" width="7.9" height="1.9" fill="#ba55d3"/>
<rect x="460.1" y="653" width="7.9" height="3.1" fill="#ff0000"/>
<rect x="460.1" y="656.1" width="7.9" height="3.8" fill="#ba55d3"/>
<rect x="460.1" y="659.9" width="7.9" height="6" fill="#ffb6c1"/>
<rect x="468" y="640.9" width="7.1" height="2.1" fill="#3c3cff"/>
<rect x="468" y="653" width="7.1" height="1.1" fill="#ba55d3"/>
<rect x="468" y="658" width="7.1" height="4" fill="#ff0000"/>
<rect x="475.1" y="630" width="6.8" height="1.9" fill="#00ffff"/>
<rect x="475.1" y="649.1" width="6.8" height="7" fill="#ba55d3"/>
<rect x="475.1" y="656.1" width="6.8" height="1.9" fill="#3c3cff"/>
<rect x="475.1" y="658" width="6.8" height="1.9" fill="#ba55d3"/>
<rect x="475.1" y="659.9" width="6.8" height="2.1" fill="#ff0000"/>
<rect x="481.9" y="621" width="6.9" height="2" fill="#00bfff"/>
<rect x="481.9" y="623" width="6.9" height="1.8" fill="#ba55d3"/>
<rect x="481.9" y="630" width="6.9" height="3.9" fill="#ff0000"/>
<rect x="481.9" y="636" width="6.9" height="1.9" fill="#ba55d3"/>
<rect x="481.9" y="638" width="6.9" height="1.9" fill="#00bfff"/>
<rect x="481.9" y="639.9" width="6.9" height="1" fill="#ffd700"/>
<rect x="481.9" y="640.9" width="6.9" height="2.1" fill="#00ffff"/>
<rect x="481.9" y="643" width="6.9" height="2.1" fill="#3c3cff"/>
<rect x="481.9" y="649.1" width="6.9" height="3.9" fill="#ba55d3"/>
<rect x="481.9" y="653" width="6.9" height="1.1" fill="#00bfff"/>
<rect x="481.9" y="654.1" width="6.9" height="2" fill="#ba55d3"/>
<rect x="481.9" y="656.1" width="6.9" height="1.9" fill="#ff0000"/>
<rect x="481.9" y="658" width="6.9" height="1.9" fill="#ba55d3"/>
<rect x="481.9" y="659.9" width="6.9" height="2.1" fill="#ffb6c1"/>
<rect x="481.9" y="662" width="6.9" height="2" fill="#ff0000"/>
<rect x="488.9" y="647.1" width="4.2" height="1.9" fill="#008000"/>
<rect x="488.9" y="649.1" width="4.2" height="3.9" fill="#ba55d3"/>
<rect x="488.9" y="653" width="4.2" height="1.1" fill="#ff0000"/>
<rect x="488.9" y="654.1" width="4.2" height="2" fill="#ba55d3"/>
<rect x="488.9" y="658" width="4.2" height="4" fill="#ff0000"/>
<rect x="493" y="643" width="5" height="2.1" fill="#ba55d3"/>
<rect x="493" y="647.1" width="5" height="5.8" fill="#ba55d3"/>
<rect x="498" y="640.9" width="5" height="2.1" fill="#ff0000"/>
<rect x="498" y="643" width="5" height="2.1" fill="#008000"/>
<rect x="498" y="649.1" width="5" height="5" fill="#ba55d3"/>
<rect x="498" y="654.1" width="5" height="2" fill="#ffd700"/>
<rect x="498" y="656.1" width="5" height="3.8" fill="#ff0000"/>
<rect x="498" y="659.9" width="5" height="2.1" fill="#00bfff"/>
<rect x="503.1" y="621" width="6.7" height="2" fill="#ff0000"/>
<rect x="503.1" y="623" width="6.7" height="1.8" fill="#ba55d3"/>
<rect x="503.1" y="624.8" width="6.7" height="3.1" fill="#ffd700"/>
<rect x="503.1" y="627.9" width="6.7" height="2.1" fill="#ffb6c1"/>
<rect x="503.1" y="630" width="6.7" height="3.9" fill="#00ffff"/>
<rect x="503.1" y="633.9" width="6.7" height="2.1" fill="#008000"/>
<rect x="503.1" y="639.9" width="6.7" height="3.1" fill="#ffd700"/>
<rect x="503.1" y="643" width="6.7" height="2.1" fill="#ba55d3"/>
<rect x="503.1" y="647.1" width="6.7" height="1.9" fill="#ba55d3"/>
<rect x="503.1" y="649.1" width="6.7" height="2" fill="#00bfff"/>
<rect x="503.1" y="651.1" width="6.7" height="5" fill="#ffb6c1"/>
<rect x="503.1" y="656.1" width="6.7" height="1.9" fill="#ba55d3"/>
<rect x="503.1" y="658" width="6.7" height="4" fill="#008000"/>
<rect x="509.7" y="627.1" width="5.3" height="1" fill="#3c3cff"/>
<rect x="509.7" y="631.9" width="5.3" height="2" fill="#3c3cff"/>
<rect x="509.7" y="633.9" width="5.3" height="2.1" fill="#00ffff"/>
<rect x="509.7" y="638" width="5.3" height="2.9" fill="#008000"/>
<rect x="509.7" y="640.9" width="5.3" height="2.1" fill="#00ffff"/>
<rect x="509.7" y="647.1" width="5.3" height="1.9" fill="#008000"/>
<rect x="509.7" y="649.1" width="5.3" height="2" fill="#00bfff"/>
<rect x="509.7" y="651.1" width="5.3" height="3" fill="#008000"/>
<rect x="509.7" y="654.1" width="5.3" height="7.9" fill="#ff0000"/>
<rect x="510" y="607.9" width="7" height="2.1" fill="#ba55d3"/>
<rect x="510" y="610" width="7" height="2" fill="#00bfff"/>
<rect x="510" y="614" width="7" height="2.8" fill="#ffb6c1"/>
<rect x="510" y="626.9" width="7" height="0.9" fill="#3c3cff"/>
<rect x="510" y="632.1" width="7" height="2" fill="#3c3cff"/>
<rect x="510" y="634" width="7" height="2" fill="#00ffff"/>
<rect x="510" y="638.1" width="7" height="2.9" fill="#008000"/>
<rect x="510" y="641" width="7" height="2" fill="#00ffff"/>
<rect x="510" y="647.1" width="7" height="1.9" fill="#008000"/>
<rect x="510" y="649" width="7" height="2.1" fill="#00bfff"/>
<rect x="510" y="651" width="7" height="3" fill="#008000"/>
<rect x="510" y="654" width="7" height="7.9" fill="#ff0000"/>
<rect x="517" y="641" width="7" height="2" fill="#ffd700"/>
<rect x="517" y="651" width="7" height="2" fill="#ba55d3"/>
<rect x="517" y="653" width="7" height="1" fill="#ffb6c1"/>
<rect x="517" y="654" width="7" height="2" fill="#ba55d3"/>
<rect x="524" y="614" width="6" height="1" fill="#ffd700"/>
<rect x="524" y="625" width="6" height="1.9" fill="#ffd700"/>
<rect x="524" y="628.1" width="6" height="1.9" fill="#ffd700"/>
<rect x="524" y="632.1" width="6" height="2" fill="#ffd700"/>
<rect x="524" y="640" width="6" height="1" fill="#ffd700"/>
<rect x="524" y="643" width="6" height="2" fill="#ffd700"/>
<rect x="524" y="647.1" width="6" height="1.9" fill="#ffd700"/>
<rect x="524" y="654" width="6" height="2" fill="#ffd700"/>
<rect x="524" y="658" width="6" height="2" fill="#ffd700"/>
<rect x="530" y="614" width="7.1" height="1" fill="#008000"/>
<rect x="530" y="621" width="7.1" height="2" fill="#3c3cff"/>
<rect x="530" y="628.1" width="7.1" height="1.9" fill="#00ffff"/>
<rect x="530" y="630" width="7.1" height="6" fill="#ffd700"/>
<rect x="530" y="636" width="7.1" height="4" fill="#00ffff"/>
<rect x="530" y="640" width="7.1" height="1" fill="#ff0000"/>
<rect x="530" y="641" width="7.1" height="2" fill="#00ffff"/>
<rect x="530" y="643" width="7.1" height="2" fill="#008000"/>
<rect x="530" y="649" width="7.1" height="2.1" fill="#ba55d3"/>
<rect x="530" y="654" width="7.1" height="2" fill="#008000"/>
<rect x="530" y="660" width="7.1" height="2" fill="#008000"/>
<rect x="537.1" y="628.1" width="6.9" height="1.9" fill="#008000"/>
<rect x="537.1" y="641" width="6.9" height="4" fill="#00ffff"/>
<rect x="537.1" y="645" width="6.9" height="2.1" fill="#ffb6c1"/>
<rect x="537.1" y="647.1" width="6.9" height="4" fill="#00bfff"/>
<rect x="537.1" y="651" width="6.9" height="2" fill="#ba55d3"/>
<rect x="537.1" y="653" width="6.9" height="3" fill="#ffb6c1"/>
<rect x="537.1" y="656" width="6.9" height="2" fill="#ba55d3"/>
<rect x="544" y="617" width="7.1" height="2" fill="#ffd700"/>
<rect x="544" y="619" width="7.1" height="2.1" fill="#ff0000"/>
<rect x="544" y="628.1" width="7.1" height="1.9" fill="#ff0000"/>
<rect x="544" y="630" width="7.1" height="2.1" fill="#008000"/>
<rect x="544" y="632.1" width="7.1" height="2" fill="#00ffff"/>
<rect x="544" y="636" width="7.1" height="2.1" fill="#ffb6c1"/>
<rect x="544" y="638.1" width="7.1" height="2.9" fill="#00ffff"/>
<rect x="544" y="641" width="7.1" height="2" fill="#ffd700"/>
<rect x="544" y="643" width="7.1" height="2" fill="#008000"/>
<rect x="544" y="647.1" width="7.1" height="1.9" fill="#00bfff"/>
<rect x="544" y="651" width="7.1" height="2" fill="#ff0000"/>
<rect x="544" y="653" width="7.1" height="1" fill="#ffb6c1"/>
<rect x="544" y="654" width="7.1" height="2" fill="#ff0000"/>
<rect x="544" y="656" width="7.1" height="2" fill="#3c3cff"/>
<rect x="551" y="614" width="6" height="3" fill="#008000"/>
<rect x="551" y="630" width="6" height="2.1" fill="#008000"/>
<rect x="551" y="634" width="6" height="2" fill="#ffb6c1"/>
<rect x="551" y="636" width="6" height="2.1" fill="#00ffff"/>
<rect x="551" y="640" width="6" height="3" fill="#ffb6c1"/>
<rect x="551" y="643" width="6" height="2" fill="#3c3cff"/>
<rect x="551" y="645" width="6" height="2.1" fill="#00ffff"/>
<rect x="551" y="647.1" width="6" height="12.9" fill="#ba55d3"/>
<rect x="551" y="660" width="6" height="2" fill="#008000"/>
<rect x="551" y="662" width="6" height="2" fill="#ff0000"/>
<rect x="557.1" y="606" width="7" height="2" fill="#ffd700"/>
<rect x="557.1" y="614" width="7" height="1" fill="#ffd700"/>
<rect x="557.1" y="628.1" width="7" height="1.9" fill="#00ffff"/>
<rect x="557.1" y="630" width="7" height="2.1" fill="#ffd700"/>
<rect x="557.1" y="634" width="7" height="2" fill="#ff0000"/>
<rect x="557.1" y="636" width="7" height="5" fill="#ffd700"/>
<rect x="557.1" y="641" width="7" height="2" fill="#008000"/>
<rect x="557.1" y="643" width="7" height="4" fill="#ffd700"/>
<rect x="557.1" y="647.1" width="7" height="1.9" fill="#ffb6c1"/>
<rect x="557.1" y="649" width="7" height="2.1" fill="#ba55d3"/>
<rect x="557.1" y="653" width="7" height="1" fill="#ffb6c1"/>
<rect x="557.1" y="656" width="7" height="2" fill="#ba55d3"/>
<rect x="557.1" y="658" width="7" height="2" fill="#ff0000"/>
<rect x="557.1" y="660" width="7" height="2" fill="#008000"/>
<rect x="564" y="614.9" width="7" height="4" fill="#008000"/>
<rect x="564" y="628.1" width="7" height="1.9" fill="#ffb6c1"/>
<rect x="564" y="630" width="7" height="4" fill="#008000"/>
<rect x="564" y="634" width="7" height="7" fill="#ff0000"/>
<rect x="564" y="643" width="7" height="2" fill="#00ffff"/>
<rect x="564" y="645" width="7" height="4" fill="#ffb6c1"/>
<rect x="564" y="649" width="7" height="4" fill="#ba55d3"/>
<rect x="564" y="656" width="7" height="2" fill="#ffb6c1"/>
<rect x="564" y="658" width="7" height="2" fill="#ff0000"/>
<rect x="564" y="660" width="7" height="2" fill="#ffb6c1"/>
<rect x="577.1" y="612" width="2.9" height="2" fill="#ff0000"/>
<rect x="577.1" y="623" width="2.9" height="2" fill="#008000"/>
<rect x="577.1" y="628.1" width="2.9" height="4" fill="#ffb6c1"/>
<rect x="577.1" y="632.1" width="2.9" height="2" fill="#00ffff"/>
<rect x="577.1" y="636" width="2.9" height="2.1" fill="#00ffff"/>
<rect x="577.1" y="638.1" width="2.9" height="9" fill="#ffd700"/>
<rect x="577.1" y="654" width="2.9" height="4" fill="#ba55d3"/>
<rect x="577.1" y="612" width="5.9" height="2" fill="#ff0000"/>
<rect x="577.1" y="623" width="5.9" height="2" fill="#008000"/>
<rect x="577.1" y="628.1" width="5.9" height="4" fill="#ffb6c1"/>
<rect x="577.1" y="632.1" width="5.9" height="2" fill="#00ffff"/>
<rect x="577.1" y="636" width="5.9" height="2.1" fill="#00ffff"/>
<rect x="577.1" y="638.1" width="5.9" height="9" fill="#ffd700"/>
<rect x="577.1" y="654" width="5.9" height="4" fill="#ba55d3"/>
<rect x="582.9" y="610" width="6" height="2" fill="#00bfff"/>
<rect x="582.9" y="612" width="6" height="2.9" fill="#008000"/>
<rect x="582.9" y="621" width="6" height="4" fill="#3c3cff"/>
<rect x="582.9" y="625" width="6" height="1.9" fill="#ffd700"/>
<rect x="582.9" y="634" width="6" height="2" fill="#ffd700"/>
<rect x="582.9" y="636" width="6" height="2.1" fill="#ff0000"/>
<rect x="582.9" y="638.1" width="6" height="4.9" fill="#ffb6c1"/>
<rect x="597.1" y="614.9" width="7" height="4" fill="#008000"/>
<rect x="597.1" y="619" width="7" height="2.1" fill="#ff0000"/>
<rect x="597.1" y="621" width="7" height="2" fill="#00bfff"/>
<rect x="597.1" y="638.1" width="7" height="1.9" fill="#ff0000"/>
<rect x="597.1" y="640" width="7" height="1" fill="#ffd700"/>
<rect x="597.1" y="641" width="7" height="2" fill="#00ffff"/>
<rect x="597.1" y="645" width="7" height="2.1" fill="#00ffff"/>
<rect x="597.1" y="651" width="7" height="5" fill="#ba55d3"/>
<rect x="597.1" y="656" width="7" height="2" fill="#ff0000"/>
<rect x="604" y="651" width="7" height="2" fill="#008000"/>
<rect x="611" y="621" width="12" height="2" fill="#ff0000"/>
<rect x="611" y="628.1" width="12" height="4" fill="#ff0000"/>
<rect x="611" y="640" width="12" height="3" fill="#ff0000"/>
<rect x="611" y="647.1" width="12" height="7" fill="#ff0000"/>
<rect x="611" y="654" width="12" height="2" fill="#ba55d3"/>
<rect x="623" y="625" width="14" height="1.9" fill="#ff0000"/>
<rect x="623" y="632.1" width="14" height="2" fill="#3c3cff"/>
<rect x="623" y="636" width="14" height="2.1" fill="#ff0000"/>
<rect x="623" y="638.1" width="14" height="1.9" fill="#008000"/>
<rect x="623" y="640" width="14" height="1" fill="#ba55d3"/>
<rect x="623" y="641" width="14" height="6" fill="#ff0000"/>
<rect x="623" y="649" width="14" height="7.1" fill="#ba55d3"/>
<rect x="623" y="656" width="14" height="2" fill="#00bfff"/>
<rect x="637" y="628.1" width="8" height="1.9" fill="#008000"/>
<rect x="637" y="647.1" width="8" height="1.9" fill="#ffb6c1"/>
<rect x="637" y="653" width="8" height="1" fill="#00bfff"/>
<rect x="640" y="628" width="9.9" height="1.9" fill="#008000"/>
<rect x="640" y="647" width="9.9" height="2" fill="#ffb6c1"/>
<rect x="640" y="653" width="9.9" height="1" fill="#00bfff"/>
<rect x="649.9" y="608" width="11" height="4" fill="#ff0000"/>
<rect x="649.9" y="619" width="11" height="2" fill="#008000"/>
<rect x="649.9" y="632" width="11" height="4" fill="#ff0000"/>
<rect x="649.9" y="636" width="11" height="2" fill="#008000"/>
<rect x="649.9" y="640" width="11" height="3" fill="#ff0000"/>
<rect x="649.9" y="643" width="11" height="2" fill="#008000"/>
<rect x="649.9" y="645" width="11" height="2.1" fill="#ffb6c1"/>
<rect x="649.9" y="647" width="11" height="4" fill="#008000"/>
<rect x="649.9" y="651" width="11" height="5" fill="#ba55d3"/>
<rect x="661" y="608" width="12" height="2" fill="#008000"/>
<rect x="661" y="610" width="12" height="2" fill="#ff0000"/>
<rect x="661" y="612" width="12" height="2.1" fill="#00bfff"/>
<rect x="661" y="614" width="12" height="7" fill="#ff0000"/>
<rect x="661" y="621" width="12" height="2" fill="#ffb6c1"/>
<rect x="661" y="623" width="12" height="2" fill="#ff0000"/>
<rect x="661" y="630" width="12" height="4" fill="#ffb6c1"/>
<rect x="661" y="636" width="12" height="2" fill="#ffb6c1"/>
<rect x="661" y="641" width="12" height="2" fill="#00ffff"/>
<rect x="661" y="643" width="12" height="4" fill="#ff0000"/>
<rect x="661" y="649" width="12" height="2" fill="#ffb6c1"/>
<rect x="661" y="651" width="12" height="2" fill="#ba55d3"/>
<rect x="661" y="653" width="12" height="1" fill="#ffd700"/>
<rect x="672.9" y="610" width="11" height="2" fill="#008000"/>
<rect x="672.9" y="612" width="11" height="2.1" fill="#ffb6c1"/>
<rect x="672.9" y="615" width="11" height="2" fill="#ff0000"/>
<rect x="672.9" y="617" width="11" height="2.1" fill="#00bfff"/>
<rect x="672.9" y="623" width="11" height="4" fill="#ff0000"/>
<rect x="672.9" y="630" width="11" height="2" fill="#ffb6c1"/>
<rect x="672.9" y="632" width="11" height="4" fill="#ff0000"/>
<rect x="672.9" y="641" width="11" height="6" fill="#ff0000"/>
<rect x="672.9" y="647" width="11" height="2" fill="#008000"/>
<rect x="672.9" y="651" width="11" height="3" fill="#ba55d3"/>
<rect x="684" y="612" width="10.1" height="7.1" fill="#ff0000"/>
<rect x="684" y="636" width="10.1" height="2" fill="#ffb6c1"/>
<rect x="684" y="640" width="10.1" height="3" fill="#ffb6c1"/>
<rect x="684" y="643" width="10.1" height="4" fill="#008000"/>
<rect x="684" y="647" width="10.1" height="2" fill="#ff0000"/>
<rect x="684" y="649" width="10.1" height="4" fill="#ba55d3"/>
<rect x="684" y="653" width="10.1" height="1" fill="#ff0000"/>
<rect x="684" y="654" width="10.1" height="2" fill="#00bfff"/>
<rect x="694" y="608" width="11" height="2" fill="#ff0000"/>
<rect x="694" y="610" width="11" height="2" fill="#008000"/>
<rect x="694" y="612" width="11" height="2.1" fill="#ba55d3"/>
<rect x="694" y="615" width="11" height="4" fill="#008000"/>
<rect x="694" y="619" width="11" height="4" fill="#ff0000"/>
<rect x="694" y="632" width="11" height="2" fill="#ba55d3"/>
<rect x="694" y="641" width="11" height="6" fill="#ff0000"/>
<rect x="694" y="649" width="11" height="2" fill="#008000"/>
<rect x="694" y="651" width="11" height="2" fill="#ff0000"/>
<rect x="705.1" y="608" width="4.9" height="4" fill="#ff0000"/>
<rect x="705.1" y="612" width="4.9" height="2.1" fill="#ba55d3"/>
<rect x="705.1" y="614" width="4.9" height="14" fill="#008000"/>
<rect x="705.1" y="632" width="4.9" height="2" fill="#00ffff"/>
<rect x="705.1" y="641" width="4.9" height="12" fill="#ff0000"/>
<rect x="705.1" y="653" width="4.9" height="1" fill="#008000"/>
<rect x="705.1" y="654" width="4.9" height="2" fill="#ba55d3"/>
<rect x="640" y="602" width="9.9" height="2" fill="#008000"/>
<rect x="649.9" y="565" width="11" height="2" fill="#00bfff"/>
<rect x="649.9" y="576" width="11" height="4" fill="#ba55d3"/>
<rect x="649.9" y="580" width="11" height="2" fill="#3c3cff"/>
<rect x="649.9" y="588" width="11" height="1" fill="#00bfff"/>
<rect x="649.9" y="602" width="11" height="2" fill="#ff0000"/>
<rect x="649.9" y="608" width="11" height="4" fill="#ff0000"/>
<rect x="661" y="586" width="12" height="2" fill="#ba55d3"/>
<rect x="661" y="599" width="12" height="2" fill="#3c3cff"/>
<rect x="661" y="601" width="12" height="1" fill="#ba55d3"/>
<rect x="661" y="602" width="12" height="2" fill="#ff0000"/>
<rect x="661" y="604" width="12" height="6" fill="#008000"/>
<rect x="661" y="610" width="12" height="2" fill="#ff0000"/>
<rect x="672.9" y="560" width="11" height="2" fill="#00bfff"/>
<rect x="672.9" y="562" width="11" height="1" fill="#3c3cff"/>
<rect x="672.9" y="586" width="11" height="2" fill="#ba55d3"/>
<rect x="672.9" y="602" width="11" height="2" fill="#ba55d3"/>
<rect x="672.9" y="604" width="11" height="4" fill="#ff0000"/>
<rect x="672.9" y="610" width="11" height="2" fill="#008000"/>
<rect x="684" y="588" width="10.1" height="1" fill="#3c3cff"/>
<rect x="684" y="589" width="10.1" height="2" fill="#00bfff"/>
<rect x="684" y="604" width="10.1" height="4" fill="#ff0000"/>
<rect x="694" y="584" width="11" height="4" fill="#00ffff"/>
<rect x="694" y="591" width="11" height="2" fill="#00ffff"/>
<rect x="694" y="593" width="11" height="2" fill="#ff0000"/>
<rect x="694" y="597.1" width="11" height="2" fill="#ff0000"/>
<rect x="694" y="599" width="11" height="2" fill="#00bfff"/>
<rect x="694" y="604" width="11" height="6" fill="#ff0000"/>
<rect x="694" y="610" width="11" height="2" fill="#008000"/>
<rect x="705.1" y="595" width="4.9" height="2.1" fill="#ff0000"/>
<rect x="705.1" y="608" width="4.9" height="4" fill="#ff0000"/>
<rect x="705" y="608" width="12" height="4" fill="#ff0000"/>
<rect x="705" y="612" width="12" height="2" fill="#ba55d3"/>
<rect x="705" y="614" width="12" height="13.9" fill="#008000"/>
<rect x="705" y="632" width="12" height="2" fill="#00ffff"/>
<rect x="705" y="641" width="12" height="12" fill="#ff0000"/>
<rect x="705" y="653" width="12" height="1.2" fill="#008000"/>
<rect x="705" y="654.1" width="12" height="1.8" fill="#ba55d3"/>
<rect x="717" y="608" width="13" height="2" fill="#00bfff"/>
<rect x="717" y="610" width="13" height="2" fill="#008000"/>
<rect x="717" y="616.9" width="13" height="6" fill="#ff0000"/>
<rect x="717" y="628" width="13" height="2" fill="#ba55d3"/>
<rect x="717" y="634" width="13" height="4" fill="#00ffff"/>
<rect x="717" y="643" width="13" height="2" fill="#ba55d3"/>
<rect x="717" y="645" width="13" height="2" fill="#ffd700"/>
<rect x="730" y="608" width="16" height="2" fill="#ff0000"/>
<rect x="730" y="610" width="16" height="2" fill="#008000"/>
<rect x="730" y="614" width="16" height="0.9" fill="#ba55d3"/>
<rect x="730" y="614.9" width="16" height="4" fill="#ff0000"/>
<rect x="730" y="622.9" width="16" height="2.1" fill="#ffd700"/>
<rect x="730" y="625" width="16" height="5" fill="#ff0000"/>
<rect x="730" y="634" width="16" height="4" fill="#008000"/>
<rect x="730" y="638" width="16" height="2" fill="#ff0000"/>
<rect x="730" y="639.9" width="16" height="1.1" fill="#ba55d3"/>
<rect x="730" y="643" width="16" height="2" fill="#ffd700"/>
<rect x="730" y="645" width="16" height="2" fill="#ff0000"/>
<rect x="730" y="647" width="16" height="2" fill="#ffd700"/>
<rect x="746" y="610" width="22" height="2" fill="#ffb6c1"/>
<rect x="746" y="612" width="22" height="4.9" fill="#ff0000"/>
<rect x="746" y="618.9" width="22" height="2" fill="#00bfff"/>
<rect x="746" y="621" width="22" height="2" fill="#ff0000"/>
<rect x="746" y="622.9" width="22" height="2.1" fill="#008000"/>
<rect x="746" y="627" width="22" height="7" fill="#008000"/>
<rect x="746" y="634" width="22" height="4" fill="#ff0000"/>
<rect x="746" y="643" width="22" height="2" fill="#ff0000"/>
<rect x="768" y="610" width="17" height="4.1" fill="#008000"/>
<rect x="768" y="616.9" width="17" height="2" fill="#ff0000"/>
<rect x="768" y="618.9" width="17" height="2" fill="#008000"/>
<rect x="768" y="621" width="17" height="2" fill="#ff0000"/>
<rect x="768" y="628" width="17" height="6" fill="#ff0000"/>
<rect x="768" y="673" width="17" height="2" fill="#ff0000"/>
<rect x="705" y="595" width="12" height="2" fill="#ff0000"/>
<rect x="705" y="608.1" width="12" height="4" fill="#ff0000"/>
<rect x="705" y="612" width="12" height="2" fill="#ba55d3"/>
<rect x="705" y="614" width="12" height="2" fill="#008000"/>
<rect x="717" y="571" width="13" height="2" fill="#ff0000"/>
<rect x="717" y="584" width="13" height="2" fill="#3c3cff"/>
<rect x="717" y="599" width="13" height="2" fill="#ba55d3"/>
<rect x="717" y="601" width="13" height="1" fill="#00bfff"/>
<rect x="717" y="606" width="13" height="2" fill="#008000"/>
<rect x="717" y="608.1" width="13" height="2" fill="#00bfff"/>
<rect x="717" y="610" width="13" height="2" fill="#008000"/>
<rect x="730" y="547" width="16" height="1.9" fill="#ffb6c1"/>
<rect x="730" y="586" width="16" height="2" fill="#ba55d3"/>
<rect x="730" y="588" width="16" height="3" fill="#ff0000"/>
<rect x="730" y="601" width="16" height="0.8" fill="#ba55d3"/>
<rect x="730" y="606" width="16" height="2" fill="#008000"/>
<rect x="730" y="608.1" width="16" height="2" fill="#ff0000"/>
<rect x="730" y="610" width="16" height="2" fill="#008000"/>
<rect x="730" y="614" width="16" height="1.1" fill="#ba55d3"/>
<rect x="730" y="615.1" width="16" height="1" fill="#ff0000"/>
<rect x="746" y="584" width="22" height="2" fill="#3c3cff"/>
<rect x="746" y="586" width="22" height="2" fill="#ba55d3"/>
<rect x="746" y="593.1" width="22" height="2" fill="#ff0000"/>
<rect x="746" y="601" width="22" height="1" fill="#ff0000"/>
<rect x="746" y="602" width="22" height="2" fill="#ba55d3"/>
<rect x="746" y="604.1" width="22" height="2" fill="#008000"/>
<rect x="746" y="610" width="22" height="2" fill="#ffb6c1"/>
<rect x="746" y="612" width="22" height="4" fill="#ff0000"/>
<rect x="768" y="586" width="17" height="2" fill="#ba55d3"/>
<rect x="768" y="588" width="17" height="0.8" fill="#ffb6c1"/>
<rect x="768" y="610" width="17" height="4" fill="#008000"/>
<rect x="524" y="289" width="6" height="1.8" fill="#ffd700"/>
<rect x="524" y="292.3" width="6" height="1.5" fill="#ffd700"/>
<rect x="524" y="295.9" width="6" height="2.1" fill="#ffd700"/>
<rect x="524" y="380.1" width="6" height="1.7" fill="#ffd700"/>
<rect x="524" y="383" width="6" height="2" fill="#ffd700"/>
<rect x="524" y="387.1" width="6" height="2" fill="#ffd700"/>
<rect x="524" y="395.1" width="6" height="0.9" fill="#ffd700"/>
<rect x="524" y="397.8" width="6" height="2" fill="#ffd700"/>
<rect x="524" y="402" width="6" height="2.1" fill="#ffd700"/>
<rect x="524" y="477.9" width="6" height="1.9" fill="#ffd700"/>
<rect x="524" y="481.9" width="6" height="2" fill="#ffd700"/>
<rect x="524" y="486" width="6" height="1" fill="#ffd700"/>
<rect x="524" y="499.9" width="6" height="2.1" fill="#ffd700"/>
<rect x="524" y="504" width="6" height="2" fill="#ffd700"/>
<rect x="524" y="508" width="6" height="2" fill="#ffd700"/>
<rect x="524" y="511.9" width="6" height="1.1" fill="#ffd700"/>
<rect x="524" y="515" width="6" height="2" fill="#ffd700"/>
<rect x="524" y="519" width="6" height="2" fill="#ffd700"/>
<rect x="524" y="523" width="6" height="1" fill="#ffd700"/>
<rect x="524" y="525.9" width="6" height="2" fill="#ffd700"/>
<rect x="524" y="530" width="6" height="2" fill="#ffd700"/>
<rect x="524" y="534" width="6" height="2" fill="#ffd700"/>
<rect x="524" y="537" width="6" height="2" fill="#ffd700"/>
<rect x="524" y="541" width="6" height="2" fill="#ffd700"/>
<rect x="161" y="192" width="3" height="2" fill="#ffb6c1"/>
<rect x="143" y="198" width="3" height="2" fill="#ffb6c1"/>
<rect x="161" y="202" width="3" height="1" fill="#ffb6c1"/>
<rect x="140" y="220" width="3" height="4" fill="#ffd700"/>
<rect x="140" y="257" width="3" height="2" fill="#ffd700"/>
<rect x="140" y="294" width="3" height="2" fill="#ffd700"/>
<rect x="140" y="302" width="3" height="2" fill="#ffd700"/>
<rect x="140" y="305" width="3" height="2" fill="#ffd700"/>
<rect x="143" y="512" width="3" height="3" fill="#ffb6c1"/>
<rect x="143" y="599" width="3" height="2" fill="#ffd700"/>
<rect x="177" y="625" width="3" height="2" fill="#ffd700"/>
<rect x="131" y="639.8" width="3" height="1.2" fill="#00ffff"/>
<rect x="328" y="543" width="7" height="2" fill="#ba55d3"/>
<rect x="475" y="589.1" width="7" height="1.9" fill="#00bfff"/>
<rect x="482" y="613.9" width="6.9" height="1" fill="#ba55d3"/>
<rect x="498" y="615.1" width="5" height="3.9" fill="#ff0000"/>
<rect x="503" y="617.1" width="7.1" height="1.9" fill="#00bfff"/>
<rect x="583" y="575.9" width="6" height="2" fill="#ba55d3"/>
<rect x="597" y="587.9" width="7" height="1" fill="#3c3cff"/>
<rect x="637.1" y="602" width="3.8" height="1.9" fill="#008000"/>
<rect x="650" y="502" width="11" height="2" fill="#ffd700"/>
<rect x="717" y="515" width="13" height="2" fill="#ffb6c1"/>
</g>
<g stroke="#b0b0b0" stroke-width="1.1" fill="none">
<path d="M138.5 100.5V793.5"/>
<path d="M230.5 100.5V793.5"/>
<path d="M323.5 100.5V793.5"/>
<path d="M415.5 100.5V793.5"/>
<path d="M508.5 100.5V793.5"/>
<path d="M600.5 100.5V793.5"/>
<path d="M692.5 100.5V793.5"/>
<path d="M92.5 669.5H785.5"/>
<path d="M92.5 545.5H785.5"/>
<path d="M92.5 421.5H785.5"/>
<path d="M92.5 298.5H785.5"/>
<path d="M92.5 174.5H785.5"/>
</g>
<g stroke="#000" stroke-width="1.1" fill="none">
<path d="M138.5 793.5v5.2"/>
<path d="M230.5 793.5v5.2"/>
<path d="M323.5 793.5v5.2"/>
<path d="M415.5 793.5v5.2"/>
<path d="M508.5 793.5v5.2"/>
<path d="M600.5 793.5v5.2"/>
<path d="M692.5 793.5v5.2"/>
<path d="M785.5 793.5v5.2"/>
</g><g stroke="#000" stroke-width="0.85" fill="none">
<path d="M92.5 793.5v3.1"/>
<path d="M115.5 793.5v3.1"/>
<path d="M161.5 793.5v3.1"/>
<path d="M184.5 793.5v3.1"/>
<path d="M207.5 793.5v3.1"/>
<path d="M253.5 793.5v3.1"/>
<path d="M277.5 793.5v3.1"/>
<path d="M300.5 793.5v3.1"/>
<path d="M346.5 793.5v3.1"/>
<path d="M369.5 793.5v3.1"/>
<path d="M392.5 793.5v3.1"/>
<path d="M438.5 793.5v3.1"/>
<path d="M462.5 793.5v3.1"/>
<path d="M485.5 793.5v3.1"/>
<path d="M531.5 793.5v3.1"/>
<path d="M554.5 793.5v3.1"/>
<path d="M577.5 793.5v3.1"/>
<path d="M623.5 793.5v3.1"/>
<path d="M646.5 793.5v3.1"/>
<path d="M669.5 793.5v3.1"/>
<path d="M715.5 793.5v3.1"/>
<path d="M739.5 793.5v3.1"/>
<path d="M762.5 793.5v3.1"/>
<path d="M92.5 762.5h-3.1"/>
<path d="M92.5 731.5h-3.1"/>
<path d="M92.5 700.5h-3.1"/>
<path d="M92.5 638.5h-3.1"/>
<path d="M92.5 607.5h-3.1"/>
<path d="M92.5 576.5h-3.1"/>
<path d="M92.5 514.5h-3.1"/>
<path d="M92.5 484.5h-3.1"/>
<path d="M92.5 453.5h-3.1"/>
<path d="M92.5 391.5h-3.1"/>
<path d="M92.5 360.5h-3.1"/>
<path d="M92.5 329.5h-3.1"/>
<path d="M92.5 267.5h-3.1"/>
<path d="M92.5 236.5h-3.1"/>
<path d="M92.5 205.5h-3.1"/>
<path d="M92.5 143.5h-3.1"/>
<path d="M92.5 112.5h-3.1"/>
</g><g stroke="#000" stroke-width="1.1" fill="none">
<path d="M92.5 793.5h-5.2"/>
<path d="M92.5 669.5h-5.2"/>
<path d="M92.5 545.5h-5.2"/>
<path d="M92.5 421.5h-5.2"/>
<path d="M92.5 298.5h-5.2"/>
<path d="M92.5 174.5h-5.2"/>
</g>
<rect x="92.5" y="100.5" width="693.0" height="693.0" fill="none" stroke="#000" stroke-width="1.1"/>
<text transform="translate(158.93,31.9) scale(0.9658,1)" font-size="30.2">NAL</text>
<text transform="translate(224.83,31.9) scale(0.9809,1)" font-size="30.2">CADI</text>
<text transform="translate(304.93,31.9) scale(0.9333,1)" font-size="30.2">-</text>
<text transform="translate(322.44,31.9) scale(0.9241,1)" font-size="30.2">Jul</text>
<text transform="translate(369.13,31.9) scale(1.0129,1)" font-size="30.2">31</text>
<text transform="translate(414.63,31.9) scale(1.0819,1)" font-size="30.2">22:15:00</text>
<text transform="translate(553.38,31.9) scale(1.0825,1)" font-size="30.2">2023</text>
<text transform="translate(635.96,31.9) scale(0.9077,1)" font-size="30.2">UTC</text>
<text transform="translate(337.34,841.8) scale(1.0313,1)" font-size="25.2">Frequency</text>
<text transform="translate(468.87,841.8) scale(1.0198,1)" font-size="25.2">(MHz)</text>
<text transform="translate(28.0,559.87) rotate(-90) scale(1.0913,1)" font-size="25.2">Virtual</text>
<text transform="translate(28.0,473.34) rotate(-90) scale(1.1101,1)" font-size="25.2">height</text>
<text transform="translate(28.0,388.93) rotate(-90) scale(1.0836,1)" font-size="25.2">(km)</text>
<text transform="translate(943.0,549.27) rotate(-90) scale(1.0678,1)" font-size="25.2">Azimuth</text>
<text transform="translate(943.0,443.47) rotate(-90) scale(1.0862,1)" font-size="25.2">Direction</text>
<text transform="translate(134.02,814.9) scale(0.9677,1)" font-size="17.0">2</text>
<text transform="translate(225.81,814.9) scale(0.9882,1)" font-size="17.0">4</text>
<text transform="translate(318.81,814.9) scale(0.9875,1)" font-size="17.0">6</text>
<text transform="translate(410.87,814.9) scale(0.9750,1)" font-size="17.0">8</text>
<text transform="translate(498.66,814.9) scale(1.0088,1)" font-size="17.0">10</text>
<text transform="translate(590.79,814.9) scale(1.0090,1)" font-size="17.0">12</text>
<text transform="translate(682.48,814.9) scale(1.0145,1)" font-size="17.0">14</text>
<text transform="translate(775.64,814.9) scale(1.0118,1)" font-size="17.0">16</text>
<text transform="translate(72.54,798.9) scale(1.0242,1)" font-size="17.0">0</text>
<text transform="translate(50.30,674.9) scale(1.0704,1)" font-size="17.0">200</text>
<text transform="translate(50.16,550.9) scale(1.0752,1)" font-size="17.0">400</text>
<text transform="translate(50.19,426.9) scale(1.0741,1)" font-size="17.0">600</text>
<text transform="translate(50.19,303.9) scale(1.0741,1)" font-size="17.0">800</text>
<text transform="translate(40.47,179.9) scale(1.0611,1)" font-size="17.0">1000</text>
<g shape-rendering="crispEdges">
<rect x="816.5" y="712" width="30.0" height="90.29999999999995" fill="#008000"/>
<rect x="816.5" y="622" width="30.0" height="90" fill="#ff0000"/>
<rect x="816.5" y="532" width="30.0" height="90" fill="#3c3cff"/>
<rect x="816.5" y="442" width="30.0" height="90" fill="#ba55d3"/>
<rect x="816.5" y="352" width="30.0" height="90" fill="#ffb6c1"/>
<rect x="816.5" y="262" width="30.0" height="90" fill="#ffd700"/>
<rect x="816.5" y="172" width="30.0" height="90" fill="#00ffff"/>
<rect x="816.5" y="82.5" width="30.0" height="89.5" fill="#00bfff"/>
</g>
<rect x="816.5" y="82.5" width="30.0" height="719.8" fill="none" stroke="#000" stroke-width="1.1"/>
<g stroke="#000" stroke-width="1.1" fill="none">
<path d="M846.5 757.5h5.2"/>
<path d="M846.5 667.5h5.2"/>
<path d="M846.5 577.5h5.2"/>
<path d="M846.5 487.5h5.2"/>
<path d="M846.5 397.5h5.2"/>
<path d="M846.5 307.5h5.2"/>
<path d="M846.5 217.5h5.2"/>
<path d="M846.5 127.5h5.2"/>
</g><g stroke="#000" stroke-width="0.85" fill="none">
<path d="M846.5 802.3h3.1"/>
<path d="M846.5 712.5h3.1"/>
<path d="M846.5 622.5h3.1"/>
<path d="M846.5 532.5h3.1"/>
<path d="M846.5 442.5h3.1"/>
<path d="M846.5 352.5h3.1"/>
<path d="M846.5 262.5h3.1"/>
<path d="M846.5 172.5h3.1"/>
<path d="M846.5 82.5h3.1"/>
</g>
<text transform="translate(856.21,762.9) scale(1.0483,1)" font-size="17.0">X-mode</text>
<text transform="translate(856.53,672.9) scale(1.0936,1)" font-size="17.0">Vertical</text>
<text transform="translate(855.98,582.9) scale(0.9795,1)" font-size="17.0">NNW</text>
<text transform="translate(856.56,492.9) scale(0.9613,1)" font-size="17.0">W</text>
<text transform="translate(855.87,402.9) scale(0.9307,1)" font-size="17.0">SSW</text>
<text transform="translate(855.90,312.9) scale(0.8992,1)" font-size="17.0">SSE</text>
<text transform="translate(856.55,222.9) scale(0.8432,1)" font-size="17.0">E</text>
<text transform="translate(856.01,132.9) scale(0.9529,1)" font-size="17.0">NNE</text>
</svg></body></html>
